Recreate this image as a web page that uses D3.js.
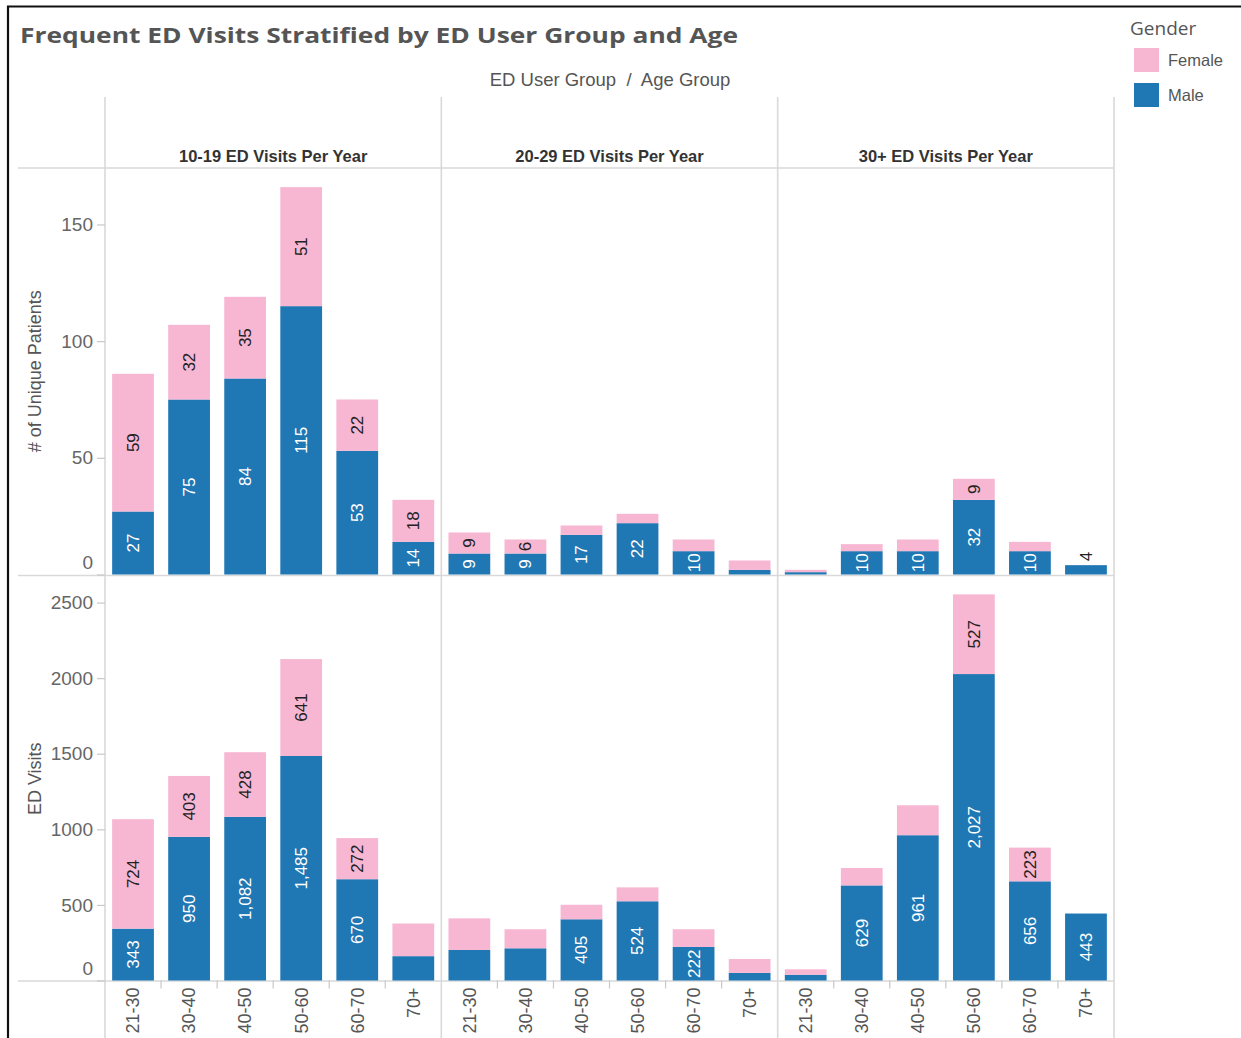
<!DOCTYPE html>
<html>
<head>
<meta charset="utf-8">
<script src="https://cdn.jsdelivr.net/npm/d3@7"></script>
<style>
  body { margin: 0; background: #fff; }
  svg { display: block; }
</style>
</head>
<body>
<svg id="chart" width="1241" height="1038"></svg>
<script>
// ---- data -------------------------------------------------------------
const ageGroups = ["21-30", "30-40", "40-50", "50-60", "60-70", "70+"];
const userGroups = ["10-19 ED Visits Per Year", "20-29 ED Visits Per Year", "30+ ED Visits Per Year"];
const genders = ["Female", "Male"];

// # of unique patients, one row per ED user group, one value per age group
const patientsMale   = [[27, 75, 84, 115, 53, 14], [9, 9, 17, 22, 10, 2], [1, 10, 10, 32, 10, 4]];
const patientsFemale = [[59, 32, 35, 51, 22, 18], [9, 6, 4, 4, 5, 4], [1, 3, 5, 9, 4, 0]];

// ED visits, same layout
const visitsMale   = [[343, 950, 1082, 1485, 670, 161], [202, 213, 405, 524, 222, 50], [38, 629, 961, 2027, 656, 443]];
const visitsFemale = [[724, 403, 428, 641, 272, 216], [209, 126, 96, 92, 117, 92], [36, 115, 198, 527, 223, 0]];

const patientTicks = [0, 50, 100, 150];
const visitTicks = [0, 500, 1000, 1500, 2000, 2500];

// ---- styling ----------------------------------------------------------
const colors = { Female: "#F7B6D2", Male: "#1F77B4" };
const FONT = "'Liberation Sans', Arial, sans-serif";
const lineColor = "#d9d9d9";

const svg = d3.select("#chart");
svg.append("rect").attr("width", 1241).attr("height", 1038).attr("fill", "#fff");

// frame
svg.append("path")
  .attr("d", "M8,1038 V6.5 H1241")
  .attr("fill", "none").attr("stroke", "#111").attr("stroke-width", 2.2);

// ---- layout scales ----------------------------------------------------
const paneLeft = 105, paneRight = 1114;
const colScale = d3.scaleBand().domain(userGroups).range([paneLeft, paneRight]);
const ageScale = d3.scaleBand().domain(ageGroups)
  .range([0, colScale.bandwidth()])
  .paddingInner(0.255).paddingOuter(0.1275);

const rows = [
  {
    title: "# of Unique Patients", male: patientsMale, female: patientsFemale, ticks: patientTicks,
    y: d3.scaleLinear().domain([0, 174.2]).range([574.5, 168])
  },
  {
    title: "ED Visits", male: visitsMale, female: visitsFemale, ticks: visitTicks,
    y: d3.scaleLinear().domain([0, 2669]).range([980.5, 577])
  }
];

// ---- title, subtitle, legend -----------------------------------------
const title = svg.append("text")
  .attr("x", 20).attr("y", 43)
  .attr("font-family", "'Open Sans', sans-serif").attr("font-weight", 700)
  .attr("font-size", 21).attr("fill", "#555")
  .text("Frequent ED Visits Stratified by ED User Group and Age");
title.attr("textLength", 718).attr("lengthAdjust", "spacingAndGlyphs");

svg.append("text")
  .attr("x", 610).attr("y", 86).attr("text-anchor", "middle")
  .attr("font-family", FONT).attr("font-size", 18.5).attr("fill", "#555")
  .attr("xml:space", "preserve")
  .text("ED User Group  /  Age Group");

const legend = svg.append("g");
legend.append("text")
  .attr("x", 1130).attr("y", 35)
  .attr("font-family", "'Open Sans', sans-serif").attr("font-size", 19).attr("fill", "#555")
  .text("Gender");
genders.forEach((g, i) => {
  legend.append("rect")
    .attr("x", 1134).attr("y", 48 + i * 35).attr("width", 25).attr("height", 24)
    .attr("fill", colors[g]);
  legend.append("text")
    .attr("x", 1168).attr("y", 60 + i * 35).attr("dy", "0.35em")
    .attr("font-family", FONT).attr("font-size", 16.5).attr("fill", "#555")
    .text(g);
});

// ---- grid / pane lines ------------------------------------------------
const grid = svg.append("g").attr("stroke", lineColor).attr("stroke-width", 1.6);
[paneLeft, ...userGroups.map(g => colScale(g) + colScale.bandwidth())].forEach(x => {
  grid.append("line").attr("x1", x).attr("x2", x).attr("y1", 97).attr("y2", 1038);
});
[168, 575.5, 981].forEach(y => {
  grid.append("line").attr("x1", 18).attr("x2", paneRight).attr("y1", y).attr("y2", y);
});

// column headers
userGroups.forEach(g => {
  svg.append("text")
    .attr("x", colScale(g) + colScale.bandwidth() / 2).attr("y", 162)
    .attr("text-anchor", "middle")
    .attr("font-family", FONT).attr("font-weight", 700).attr("font-size", 16.5)
    .attr("fill", "#333")
    .text(g);
});

// ---- panes ------------------------------------------------------------
const valueFmt = d3.format(",");
const LABEL_SIZE = 17;

rows.forEach(row => {
  const y = row.y;

  // y axis
  const axis = svg.append("g")
    .attr("transform", `translate(${paneLeft},0)`)
    .call(d3.axisLeft(y).tickValues(row.ticks).tickSize(8).tickPadding(4).tickFormat(d3.format("d")));
  axis.select(".domain").remove();
  axis.selectAll(".tick line").attr("stroke", "#c8c8c8").attr("stroke-width", 1.2);
  axis.selectAll(".tick text")
    .attr("font-family", FONT).attr("font-size", 19).attr("fill", "#666")
    .attr("y", d => d === 0 ? -12 : 0);

  // y axis title
  const yMid = (y.range()[0] + y.range()[1]) / 2;
  svg.append("text")
    .attr("transform", `translate(35,${yMid}) rotate(-90)`)
    .attr("text-anchor", "middle").attr("dy", "0.35em")
    .attr("font-family", FONT).attr("font-size", 18).attr("fill", "#555")
    .text(row.title);

  userGroups.forEach((g, gi) => {
    const gx = colScale(g);
    const pane = svg.append("g").attr("transform", `translate(${gx},0)`);

    const stacked = ageGroups.map((a, ai) => {
      const m = row.male[gi][ai], f = row.female[gi][ai];
      return { age: a, segs: [
        { gender: "Male", v: m, y0: 0, y1: m },
        { gender: "Female", v: f, y0: m, y1: m + f }
      ] };
    });

    stacked.forEach(d => {
      const bx = ageScale(d.age), bw = ageScale.bandwidth();
      d.segs.filter(s => s.v > 0).forEach(s => {
        pane.append("rect")
          .attr("x", bx).attr("width", bw)
          .attr("y", y(s.y1)).attr("height", y(s.y0) - y(s.y1))
          .attr("fill", colors[s.gender]);
      });
    });

    // value labels, rotated; dropped where the segment is too short to hold them
    stacked.forEach(d => {
      const cx = ageScale(d.age) + ageScale.bandwidth() / 2;
      const femaleAbsent = d.segs[1].v === 0;
      d.segs.filter(s => s.v > 0).forEach(s => {
        const top = y(s.y1), bot = y(s.y0), h = bot - top;
        const t = pane.append("text")
          .attr("transform", `translate(${cx},${(top + bot) / 2}) rotate(-90)`)
          .attr("text-anchor", "middle").attr("dy", "0.35em")
          .attr("font-family", FONT).attr("font-size", LABEL_SIZE)
          .attr("fill", s.gender === "Male" ? "#fff" : "#222")
          .text(valueFmt(s.v));
        const len = t.node().getComputedTextLength();
        if (h >= len * 1.1 + 2) return;
        if (s.gender === "Male" && femaleAbsent) {
          // lone short bar: label sits just above it
          t.attr("transform", `translate(${cx},${top - 4}) rotate(-90)`)
            .attr("text-anchor", "start").attr("fill", "#222");
        } else {
          t.remove();
        }
      });
    });

    // x axis (bottom row only)
    if (row === rows[1]) {
      const base = y(0);
      const xa = pane.append("g");
      ageGroups.forEach((a, ai) => {
        xa.append("text")
          .attr("transform", `translate(${ageScale(a) + ageScale.bandwidth() / 2},${base + 7}) rotate(-90)`)
          .attr("text-anchor", "end").attr("dy", "0.35em")
          .attr("font-family", FONT).attr("font-size", 18).attr("fill", "#555")
          .text(a);
        if (ai > 0) {
          const bx = ageScale(a) - ageScale.step() * ageScale.paddingInner() / 2;
          xa.append("line")
            .attr("x1", bx).attr("x2", bx).attr("y1", base).attr("y2", base + 8)
            .attr("stroke", "#c8c8c8").attr("stroke-width", 1.2);
        }
      });
    }
  });
});
</script>
</body>
</html>
